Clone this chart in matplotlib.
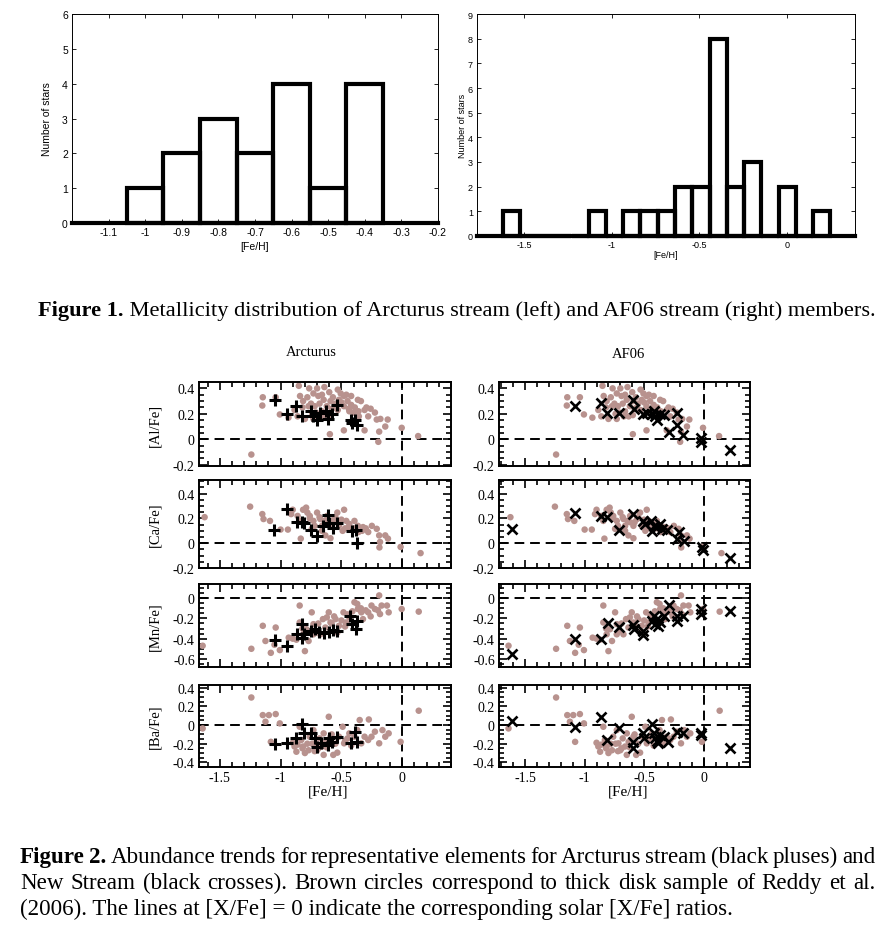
import numpy as np
import matplotlib
matplotlib.use('Agg')
import matplotlib.pyplot as plt
from matplotlib.ticker import MultipleLocator, FuncFormatter

plt.rcParams['axes.unicode_minus'] = False

# --[histogram data]-----------------------------------------------------------
arc_edges = [-1.05, -0.95, -0.85, -0.75, -0.65, -0.55, -0.45, -0.35]
arc_counts = [1, 2, 3, 2, 4, 1, 4]

af_edges = [-1.624, -1.525, -1.427, -1.328, -1.230, -1.131, -1.033, -0.934,
            -0.836, -0.737, -0.638, -0.540, -0.441, -0.343, -0.244, -0.146,
            -0.047, 0.052, 0.150, 0.249]
af_counts = [1, 0, 0, 0, 0, 1, 0, 1, 1, 1, 2, 2, 8, 2, 3, 0, 2, 0, 1]

# --[thick disk sample (brown)]------------------------------------------------
disk_al_feh = [-1.146, -1.15, -1.04, -1.006, -0.935, -1.24, -0.85, -0.84, -0.885, -0.815,
               -0.765, -0.73, -0.75, -0.72, -0.80, -0.73, -0.69, -0.66, -0.646, -0.63,
               -0.59, -0.53, -0.506, -0.52, -0.48, -0.45, -0.46, -0.42, -0.39, -0.357,
               -0.31, -0.295, -0.28, -0.225, -0.18, -0.21, -0.14, -0.19, -0.12, -0.005,
               0.13, -0.197, -0.595, -0.48, -0.595, -0.31, -0.56, -0.34, -0.365, -0.42,
               -0.77, -0.71, -0.67, -0.53, -0.48, -0.435, -0.62, -0.70, -0.60, -0.64,
               -0.86, -0.82, -0.78, -0.68, -0.57, -0.55, -0.50, -0.44, -0.40, -0.26,
               -0.66, -0.74, -0.58, -0.36]
disk_al = [0.33, 0.265, 0.33, 0.195, 0.17, -0.12, 0.42, 0.34, 0.23, 0.30,
           0.40, 0.36, 0.28, 0.26, 0.16, 0.16, 0.34, 0.35, 0.31, 0.18,
           0.30, 0.39, 0.36, 0.31, 0.34, 0.30, 0.35, 0.27, 0.25, 0.18,
           0.23, 0.25, 0.18, 0.21, 0.16, 0.155, 0.10, 0.06, 0.155, 0.09,
           0.025, -0.02, 0.19, 0.07, 0.04, 0.07, 0.25, 0.30, 0.31, 0.34,
           0.26, 0.21, 0.18, 0.23, 0.26, 0.22, 0.26, 0.40, 0.37, 0.41,
           0.18, 0.25, 0.33, 0.28, 0.33, 0.28, 0.29, 0.24, 0.21, 0.24,
           0.22, 0.20, 0.24, 0.22]

disk_ca_feh = [-1.624, -1.25, -1.15, -1.14, -1.087, -1.0, -0.94, -0.913, -0.843, -0.834,
               -0.79, -0.78, -0.815, -0.76, -0.73, -0.744, -0.70, -0.674, -0.66, -0.632,
               -0.618, -0.59, -0.59, -0.56, -0.52, -0.49, -0.478, -0.46, -0.435, -0.393,
               -0.365, -0.323, -0.28, -0.25, -0.21, -0.19, -0.183, -0.14, -0.118, -0.188,
               -0.014, 0.15, -0.90, -0.534, -0.50, -0.62, -0.68, -0.55, -0.40, -0.33,
               -0.86, -0.72, -0.64, -0.58, -0.47, -0.44, -0.36, -0.30, -0.76, -0.66]
disk_ca = [0.21, 0.295, 0.235, 0.195, 0.18, 0.11, 0.11, 0.235, 0.18, 0.037,
           0.287, 0.247, 0.27, 0.22, 0.18, 0.116, 0.247, 0.195, 0.14, 0.063,
           0.22, 0.14, 0.04, 0.195, 0.14, 0.10, 0.27, 0.18, 0.155, 0.18,
           0.14, 0.13, 0.09, 0.14, 0.116, 0.063, 0.01, 0.063, 0.037, -0.034,
           -0.03, -0.08, 0.27, 0.247, 0.19, 0.17, 0.21, 0.21, 0.12, 0.10,
           0.22, 0.14, 0.18, 0.17, 0.12, 0.13, 0.09, 0.12, 0.20, 0.10]

disk_mn_feh = [-1.64, -1.24, -1.146, -1.124, -1.08, -1.04, -1.006, -1.05, -0.933, -0.843,
               -0.843, -0.815, -0.80, -0.87, -0.787, -0.744, -0.73, -0.71, -0.674, -0.652,
               -0.632, -0.604, -0.59, -0.548, -0.52, -0.483, -0.463, -0.435, -0.393, -0.37,
               -0.337, -0.323, -0.28, -0.253, -0.225, -0.19, -0.183, -0.126, -0.17, -0.005,
               0.135, -0.112, -0.365, -0.534, -0.73, -0.77, -0.90, -0.47, -0.58, -0.30,
               -0.82, -0.69, -0.62, -0.50, -0.45, -0.41, -0.34, -0.26, -0.20, -0.56]
disk_mn = [-0.47, -0.50, -0.273, -0.423, -0.54, -0.29, -0.513, -0.46, -0.39, -0.073,
           -0.24, -0.357, -0.523, -0.41, -0.307, -0.14, -0.257, -0.323, -0.357, -0.207,
           -0.29, -0.14, -0.24, -0.207, -0.273, -0.14, -0.24, -0.19, -0.04, -0.057,
           -0.14, -0.207, -0.14, -0.073, -0.107, 0.027, -0.157, -0.073, -0.073, -0.107,
           -0.133, -0.14, -0.107, -0.34, -0.357, -0.423, -0.40, -0.28, -0.25, -0.12,
           -0.30, -0.25, -0.19, -0.22, -0.16, -0.13, -0.10, -0.18, -0.12, -0.18]

disk_ba_feh = [-1.64, -1.24, -1.146, -1.124, -1.096, -1.04, -1.006, -1.08, -0.90, -0.885,
               -0.87, -0.843, -0.83, -0.815, -0.80, -0.77, -0.76, -0.73, -0.716, -0.70,
               -0.68, -0.66, -0.646, -0.63, -0.604, -0.59, -0.567, -0.534, -0.52, -0.49,
               -0.478, -0.45, -0.435, -0.393, -0.37, -0.35, -0.337, -0.31, -0.275, -0.253,
               -0.225, -0.19, -0.163, -0.14, -0.112, -0.014, 0.135, -0.646, -0.69, -0.74,
               -0.86, -0.78, -0.72, -0.62, -0.55, -0.47, -0.42, -0.28, -0.58, -0.82]
disk_ba = [-0.036, 0.296, 0.107, 0.036, 0.107, 0.118, 0.018, -0.18, -0.19, -0.23,
           -0.286, -0.018, -0.16, -0.23, -0.30, -0.27, -0.125, -0.054, -0.196, -0.27,
           -0.143, -0.23, -0.089, -0.18, 0.089, -0.125, -0.32, -0.296, -0.125, -0.018,
           -0.196, -0.143, -0.089, -0.125, -0.054, 0.054, -0.196, -0.125, 0.06, -0.125,
           -0.071, -0.196, -0.054, -0.125, -0.089, -0.18, 0.154, -0.32, -0.25, -0.2,
           -0.21, -0.20, -0.28, -0.24, -0.20, -0.17, -0.22, -0.16, -0.10, -0.25]

# --[Arcturus stream members (pluses)]-----------------------------------------
arc_al_feh = [-1.048, -0.944, -0.87, -0.823, -0.753, -0.70, -0.674, -0.61, -0.58, -0.54,
              -0.42, -0.39, -0.374, -0.73, -0.626, -0.416]
arc_al = [0.305, 0.20, 0.26, 0.18, 0.22, 0.155, 0.21, 0.16, 0.195, 0.27,
          0.155, 0.155, 0.116, 0.186, 0.22, 0.13]

arc_ca_feh = [-1.053, -0.95, -0.865, -0.81, -0.753, -0.70, -0.654, -0.612, -0.60, -0.57,
              -0.54, -0.416, -0.382, -0.374, -0.823]
arc_ca = [0.104, 0.278, 0.174, 0.16, 0.11, 0.057, 0.135, 0.226, 0.16, 0.12,
          0.16, 0.096, 0.11, 0.0, 0.174]

arc_mn_feh = [-1.048, -0.944, -0.823, -0.865, -0.81, -0.753, -0.72, -0.683, -0.64, -0.60,
              -0.57, -0.54, -0.43, -0.416, -0.374, -0.38, -0.823]
arc_mn = [-0.413, -0.473, -0.257, -0.357, -0.357, -0.323, -0.307, -0.333, -0.347, -0.333,
          -0.313, -0.323, -0.173, -0.257, -0.223, -0.307, -0.39]

arc_ba_feh = [-1.048, -0.944, -0.87, -0.823, -0.81, -0.753, -0.72, -0.70, -0.67, -0.61,
              -0.60, -0.58, -0.54, -0.42, -0.39, -0.374]
arc_ba = [-0.204, -0.196, -0.143, 0.011, -0.089, -0.089, -0.143, -0.232, -0.196, -0.214,
          -0.143, -0.18, -0.125, -0.196, -0.079, -0.18]

# --[AF06 stream members (crosses)]--------------------------------------------
af_al_feh = [-1.08, -0.865, -0.815, -0.71, -0.595, -0.584, -0.51, -0.48, -0.435, -0.416,
             -0.41, -0.39, -0.37, -0.33, -0.225, -0.225, -0.287, -0.174, -0.022, -0.022, 0.22]
af_al = [0.265, 0.285, 0.21, 0.21, 0.305, 0.235, 0.20, 0.21, 0.20, 0.22,
         0.18, 0.155, 0.20, 0.19, 0.21, 0.11, 0.06, 0.03, 0.013, -0.02, -0.085]

af_ca_feh = [-1.607, -1.08, -0.865, -0.81, -0.71, -0.595, -0.506, -0.49, -0.444, -0.43,
             -0.416, -0.39, -0.37, -0.35, -0.31, -0.21, -0.22, -0.163, -0.014, -0.008, 0.225]
af_ca = [0.116, 0.24, 0.22, 0.208, 0.11, 0.234, 0.18, 0.155, 0.18, 0.10,
         0.14, 0.13, 0.155, 0.116, 0.11, 0.09, 0.037, 0.016, -0.03, -0.055, -0.12]

af_mn_feh = [-1.61, -1.08, -0.865, -0.80, -0.71, -0.595, -0.584, -0.51, -0.506, -0.435,
             -0.416, -0.41, -0.393, -0.38, -0.365, -0.33, -0.287, -0.225, -0.225, -0.174,
             -0.022, -0.022, 0.22]
af_mn = [-0.547, -0.407, -0.40, -0.247, -0.28, -0.267, -0.30, -0.367, -0.323, -0.223,
         -0.173, -0.257, -0.207, -0.273, -0.24, -0.173, -0.067, -0.173, -0.223, -0.173,
         -0.107, -0.157, -0.123]

af_ba_feh = [-1.61, -1.08, -0.865, -0.81, -0.71, -0.595, -0.59, -0.51, -0.50, -0.435,
             -0.42, -0.41, -0.393, -0.38, -0.365, -0.33, -0.303, -0.225, -0.174, -0.022,
             -0.022, 0.22]
af_ba = [0.046, -0.018, 0.089, -0.16, -0.036, -0.18, -0.25, -0.089, -0.143, 0.011,
         -0.089, -0.143, -0.168, -0.196, -0.107, -0.132, -0.18, -0.071, -0.089, -0.08,
         -0.11, -0.25]

# --[labels]-------------------------------------------------------------------
row_labels = ['[Al/Fe]', '[Ca/Fe]', '[Mn/Fe]', '[Ba/Fe]']
col_titles = ['Arcturus', 'AF06']
caption1 = ['Figure 1.', 'Metallicity distribution of Arcturus stream (left) and AF06 stream (right) members.']
caption2 = ['Figure 2. Abundance trends for representative elements for Arcturus stream (black pluses) and',
            'New Stream (black crosses).  Brown circles correspond to thick disk sample of Reddy et al.',
            '(2006). The lines at [X/Fe] = 0 indicate the corresponding solar [X/Fe] ratios.']

W, H = 880, 937
BROWN = '#b8928e'
SERIF = ['Liberation Serif', 'DejaVu Serif']
SANS = ['Liberation Sans Narrow', 'Liberation Sans', 'DejaVu Sans']


def box(x0, y0, x1, y1):
    return [x0 / W, 1 - y1 / H, (x1 - x0) / W, (y1 - y0) / H]


fmt = FuncFormatter(lambda v, p: '%g' % round(v, 3))

fig = plt.figure(figsize=(W / 100, H / 100), dpi=100)

# --[histograms]---------------------------------------------------------------
hists = [
    (box(72, 15, 438, 224), arc_edges, arc_counts, (-1.2, -0.2), 6,
     np.arange(-1.1, -0.15, 0.1), (47, 119), 247, 7.5),
    (box(477, 15, 855, 237), af_edges, af_counts, (-1.77, 0.39), 9,
     [-1.5, -1.0, -0.5, 0.0], (462, 126), 256, 6.5),
]
for rect, edges, counts, xl, ymax, xt, ylab_xy, xlab_y, fs in hists:
    ax = fig.add_axes(rect)
    ax.bar(edges[:-1], counts, width=np.diff(edges), align='edge', fill=False,
           edgecolor='k', linewidth=3.0, clip_on=False, zorder=3)
    ax.plot(xl, [0, 0], color='k', lw=3.0, clip_on=False, zorder=3)
    ax.set_xlim(*xl)
    ax.set_ylim(0, ymax)
    ax.set_xticks(xt)
    ax.set_yticks(range(ymax + 1))
    ax.xaxis.set_major_formatter(fmt)
    ax.tick_params(direction='in', top=True, right=True, length=3, width=0.6,
                   labelsize=fs, pad=3)
    for lab in ax.get_xticklabels() + ax.get_yticklabels():
        lab.set_family(SANS)
    for s in ax.spines.values():
        s.set_linewidth(0.7)
    fig.text(ylab_xy[0] / W, 1 - ylab_xy[1] / H, 'Number of stars', rotation=90,
             ha='center', va='center', fontsize=fs, family=SANS)
    fig.text((rect[0] + rect[2] / 2), 1 - xlab_y / H, '[Fe/H]',
             ha='center', va='center', fontsize=fs, family=SANS)

# --[abundance panels]---------------------------------------------------------
rows = [
    ((383, 467), (-0.21, 0.45), [-0.2, 0, 0.2, 0.4],
     (disk_al_feh, disk_al), (arc_al_feh, arc_al), (af_al_feh, af_al)),
    ((481, 569), (-0.2, 0.51), [-0.2, 0, 0.2, 0.4],
     (disk_ca_feh, disk_ca), (arc_ca_feh, arc_ca), (af_ca_feh, af_ca)),
    ((585, 668), (-0.68, 0.14), [-0.6, -0.4, -0.2, 0],
     (disk_mn_feh, disk_mn), (arc_mn_feh, arc_mn), (af_mn_feh, af_mn)),
    ((686, 768), (-0.45, 0.43), [-0.4, -0.2, 0, 0.2, 0.4],
     (disk_ba_feh, disk_ba), (arc_ba_feh, arc_ba), (af_ba_feh, af_ba)),
]
cols = [((199, 451), (-1.67, 0.40), '+', 9, 2.2),
        ((499, 750), (-1.72, 0.39), 'x', 7, 1.9)]

for r, (yy, yl, yt, disk, arc, af) in enumerate(rows):
    for c, (xx, xl, mk, ms, mw) in enumerate(cols):
        ax = fig.add_axes(box(xx[0], yy[0], xx[1], yy[1]))
        ax.axhline(0, color='k', lw=1.4, ls=(0, (5, 3)), zorder=1)
        ax.axvline(0, color='k', lw=1.4, ls=(0, (5, 3)), zorder=1)
        ax.scatter(disk[0], disk[1], s=22, color=BROWN, edgecolors='none', zorder=2)
        stars = arc if c == 0 else af
        ax.plot(stars[0], stars[1], ls='none', marker=mk, ms=ms, mew=mw,
                color='k', zorder=3)
        ax.set_xlim(*xl)
        ax.set_ylim(*yl)
        ax.set_yticks(yt)
        ax.xaxis.set_major_locator(MultipleLocator(0.5))
        ax.xaxis.set_minor_locator(MultipleLocator(0.1))
        ax.yaxis.set_minor_locator(MultipleLocator(0.05))
        ax.xaxis.set_major_formatter(fmt)
        ax.yaxis.set_major_formatter(fmt)
        ax.tick_params(which='both', direction='in', top=True, right=True, width=1.2)
        ax.tick_params(which='major', length=6, labelsize=10, pad=3)
        ax.tick_params(which='minor', length=3.5)
        if r < 3:
            ax.tick_params(labelbottom=False)
        for lab in ax.get_xticklabels() + ax.get_yticklabels():
            lab.set_family(SERIF)
        for s in ax.spines.values():
            s.set_linewidth(1.4)
        if c == 0:
            fig.text(155 / W, 1 - (yy[0] + yy[1]) / 2 / H, row_labels[r], rotation=90,
                     ha='center', va='center', fontsize=10.5, family=SERIF)
        if r == 3:
            fig.text((xx[0] + xx[1]) / 2 / W + 0.004, 1 - 792 / H, '[Fe/H]',
                     ha='center', va='center', fontsize=11, family=SERIF)

fig.text(311 / W, 1 - 352 / H, col_titles[0], ha='center', va='center',
         fontsize=10.5, family=SERIF)
fig.text(628 / W, 1 - 355 / H, col_titles[1], ha='center', va='center',
         fontsize=10.5, family=SERIF)

# --[captions]-----------------------------------------------------------------
renderer = fig.canvas.get_renderer()


def put(s, x, y, size, weight='normal'):
    return fig.text(x / W, 1 - y / H, s, ha='left', va='baseline', fontsize=size,
                    family=SERIF, weight=weight)


def width(t):
    return t.get_window_extent(renderer).width


# font size from the last (unjustified) line
probe = put(caption2[2], 20, 915, 10)
size = 10 * 712 / width(probe)
probe.remove()


def justify_line(line, x0, x1, y, bold_words=0):
    words = line.split()
    ts = [put(w, x0, y, size, 'bold' if i < bold_words else 'normal')
          for i, w in enumerate(words)]
    ws = [width(t) for t in ts]
    gap = (x1 - x0 - sum(ws)) / (len(ws) - 1)
    x = x0
    for t, w in zip(ts, ws):
        t.set_x(x / W)
        x += w + gap


justify_line(caption2[0], 20, 875, 863, bold_words=2)
justify_line(caption2[1], 20, 875, 889)
put(caption2[2], 20, 915, size)

# figure 1 caption: bold label + text, fitted to 38..875
tb = put(caption1[0], 38, 316, size, 'bold')
tr = put(' ' + caption1[1], 38, 316, size)
scale = (875 - 38) / (width(tb) + width(tr))
tb.set_fontsize(size * scale)
tr.set_fontsize(size * scale)
tr.set_x((38 + width(tb)) / W)

fig.savefig('out.png', dpi=100)
